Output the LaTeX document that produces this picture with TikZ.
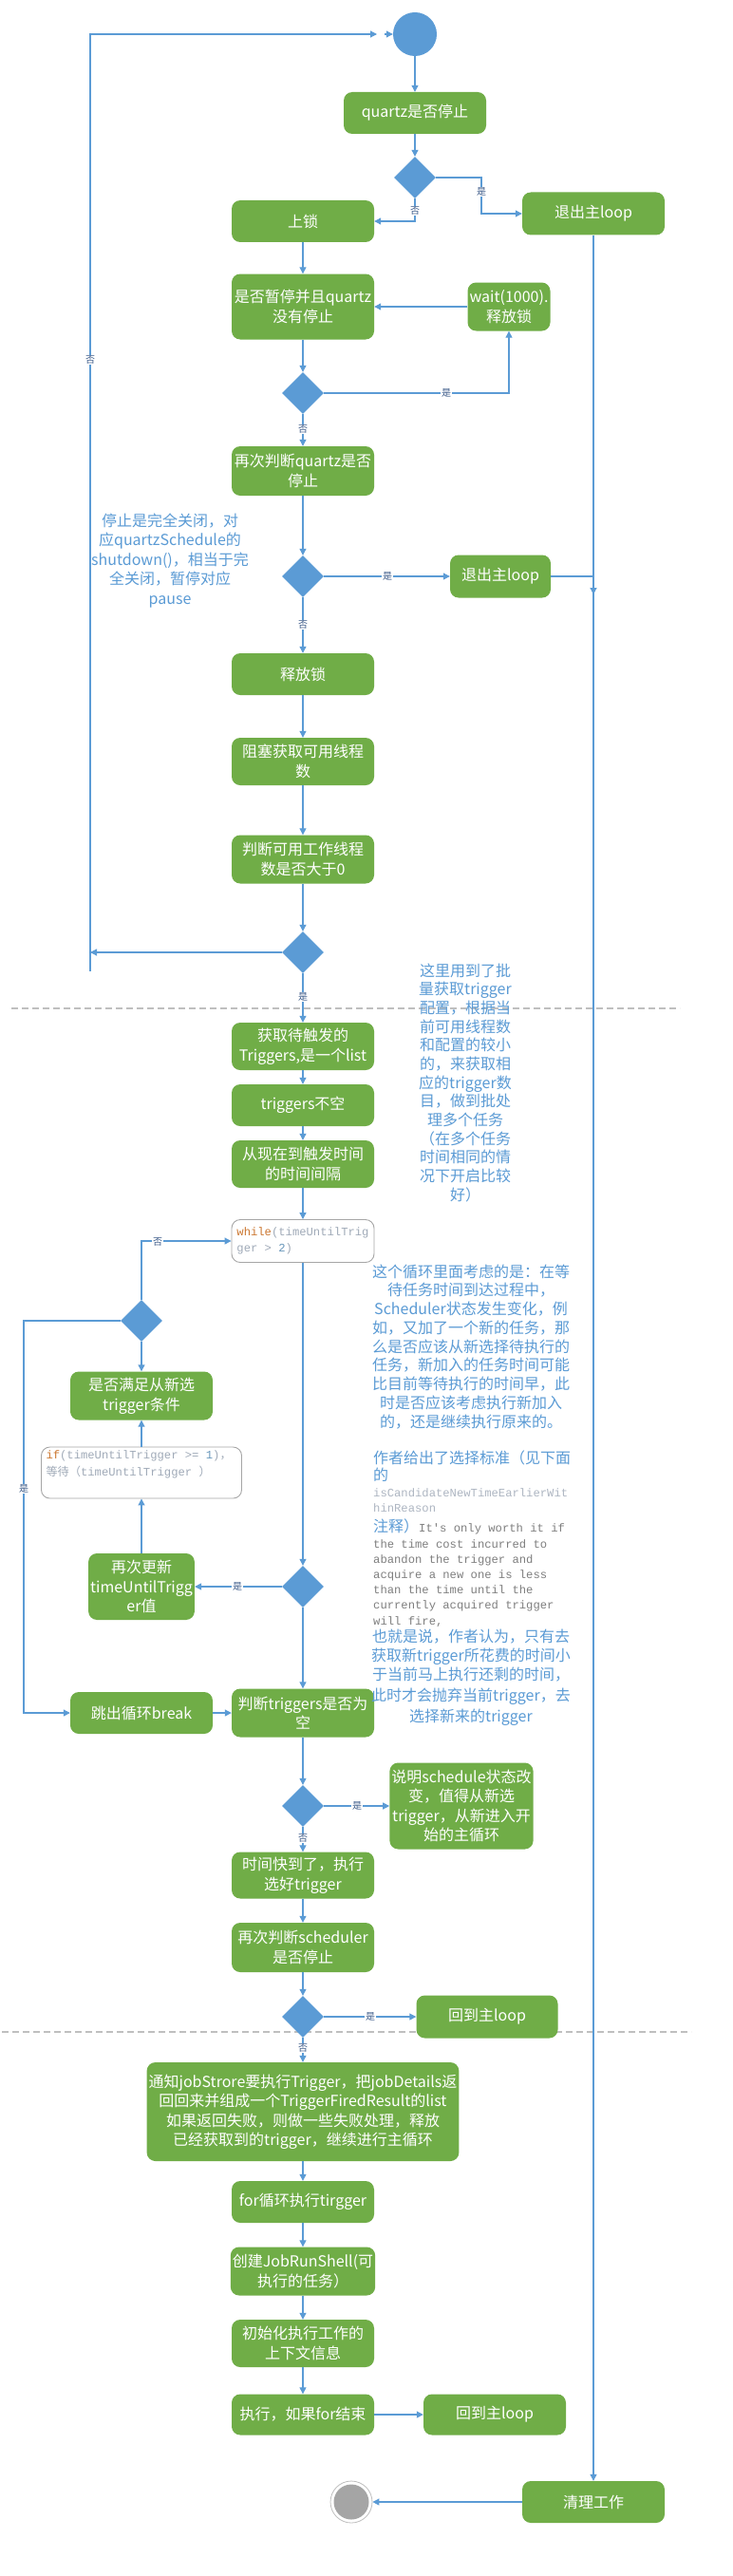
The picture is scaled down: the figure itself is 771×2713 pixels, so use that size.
\documentclass[tikz,border=0pt]{standalone}
\usepackage{fontspec}
\setmainfont{Noto Sans CJK SC}
\newfontfamily\cjk{Noto Sans CJK SC}
\newfontfamily\monof{Liberation Mono}
\usetikzlibrary{shapes.geometric,arrows.meta}
\definecolor{boxgreen}{HTML}{70AD47}
\definecolor{lineblue}{HTML}{5B9BD5}
\definecolor{noteblue}{HTML}{5B9BD5}
\definecolor{labelc}{HTML}{3E5C8A}
\definecolor{kwor}{HTML}{CC7832}
\definecolor{codegray}{HTML}{A0AAB8}
\definecolor{numblue}{HTML}{6897BB}
\definecolor{codeborder}{HTML}{A6A6A6}
\definecolor{cmtgray}{HTML}{7F7F7F}
\definecolor{lightcode}{HTML}{AEB6C2}
\definecolor{dashgray}{HTML}{BFBFBF}
\definecolor{endgray}{HTML}{A5A5A5}
\newcommand\boxfont{\fontsize{16}{20.5}\selectfont}
\newcommand\codefont{\monof\fontsize{12.2}{17.5}\selectfont}
\newcommand\notefont{\fontsize{16}{20}\selectfont}
\newcommand\lblfont{\fontsize{10}{10}\selectfont}
\begin{document}
\begin{tikzpicture}[x=1pt,y=-1pt,
  box/.style={rectangle, rounded corners=9pt, fill=boxgreen, text=white, align=center, inner sep=2pt, minimum width=150, minimum height=44, font=\boxfont},
  dia/.style={diamond, fill=lineblue, inner sep=0pt, minimum width=44, minimum height=44},
  line/.style={draw=lineblue, line width=1.1pt},
  arr/.style={line, -{Triangle[length=7pt,width=7pt]}},
  lbl/.style={font=\lblfont, text=labelc, fill=white, inner sep=0.6pt},
  notetxt/.style={font=\notefont, text=noteblue, inner sep=0pt},
  monotxt/.style={font=\codefont, text=cmtgray, inner sep=0pt},
  codebox/.style={rectangle, rounded corners=9pt, draw=codeborder, line width=0.9pt, fill=white, align=left, inner sep=4pt, font=\codefont, text=codegray},
  sepline/.style={draw=dashgray, line width=1.1pt, dash pattern=on 7pt off 4pt}
]
\useasboundingbox (0,0) rectangle (771,2713);
\fill[white] (0,0) rectangle (771,2713);

% separators
\coordinate (s1a) at (12,1062); \coordinate (s1b) at (716,1062);
\coordinate (s2a) at (2,2140); \coordinate (s2b) at (728,2140);
\draw[sepline] (s1a) -- (s1b);
\draw[sepline] (s2a) -- (s2b);

% nodes
\node[circle, fill=lineblue, minimum size=46, inner sep=0pt] (start) at (437,36) {};
\node[box] (q1) at (437,119) {quartz是否停止};
\node[dia] (d1) at (437,187) {};
\node[box, minimum height=45] (exit1) at (625,225) {退出主loop};
\node[box] (lock) at (319,233) {上锁};
\node[box, minimum height=69] (pause) at (319,323) {是否暂停并且quartz\\没有停止};
\node[box, minimum width=87, minimum height=51] (wait) at (536,323) {wait(1000).\\释放锁};
\node[dia] (d2) at (319,414) {};
\node[box, minimum height=52] (recheck) at (319,496) {再次判断quartz是否\\停止};
\node[dia] (d3) at (319,607) {};
\node[box, minimum width=106, minimum height=45] (exit2) at (527,607) {退出主loop};
\node[box] (release) at (319,710) {释放锁};
\node[box, minimum height=50] (block) at (319,802) {阻塞获取可用线程\\数};
\node[box, minimum height=51] (judge) at (319,905) {判断可用工作线程\\数是否大于0};
\node[dia] (d4) at (319,1003) {};
\node[box, minimum height=50] (fetch) at (319,1102) {获取待触发的\\Triggers,是一个list};
\node[box] (nonempty) at (319,1164) {triggers不空};
\node[box, minimum height=50] (interval) at (319,1226) {从现在到触发时间\\的时间间隔};
\node[codebox, minimum width=150, minimum height=45] (wbox) at (319,1307) {{\color{kwor}while}(timeUntilTrig\\ger > {\color{numblue}2})};
\node[dia] (d5) at (149,1391) {};
\node[box, minimum height=51] (satisfy) at (149,1470) {是否满足从新选\\trigger条件};
\node[codebox, minimum width=211, minimum height=54, inner sep=0pt] (ifbox) at (149,1551) {\parbox[c][46pt][t]{201pt}{{\color{kwor}if}(timeUntilTrigger >= {\color{numblue}1}){\cjk ，}\\{\cjk 等待（}timeUntilTrigger {\cjk ）}}};
\node[box, minimum width=106, minimum height=70] (update) at (149,1671) {再次更新\\timeUntilTrigg\\er值};
\node[dia] (d6) at (319,1671) {};
\node[box] (brk) at (149,1804) {跳出循环break};
\node[box, minimum height=51] (jempty) at (319,1804) {判断triggers是否为\\空};
\node[dia] (d7) at (319,1902) {};
\node[box, minimum width=149, minimum height=91] (explain) at (486,1902) {说明schedule状态改\\变，值得从新选\\trigger，从新进入开\\始的主循环};
\node[box, minimum height=49] (timeup) at (319,1975) {时间快到了，执行\\选好trigger};
\node[box, minimum height=52] (recheck2) at (319,2051) {再次判断scheduler\\是否停止};
\node[dia] (d8) at (319,2124) {};
\node[box, minimum width=149, minimum height=45] (back1) at (513,2124) {回到主loop};
\node[box, minimum width=312, minimum height=104] (notify) at (319,2224) {通知jobStrore要执行Trigger，把jobDetails返\\回回来并组成一个TriggerFiredResult的list\\如果返回失败，则做一些失败处理，释放\\已经获取到的trigger，继续进行主循环};
\node[box] (forb) at (319,2319) {for循环执行tirgger};
\node[box, minimum height=51] (create) at (319,2392) {创建JobRunShell(可\\执行的任务）};
\node[box, minimum height=50] (init) at (319,2468) {初始化执行工作的\\上下文信息};
\node[box, minimum height=43] (exec) at (319,2543) {执行，如果for结束};
\node[box, minimum height=43] (back2) at (521,2543) {回到主loop};
\node[box] (cleanup) at (625,2635) {清理工作};
\node[circle, draw=dashgray, line width=0.8pt, fill=white, minimum size=44, inner sep=0pt] (endo) at (370,2635) {};
\node[circle, fill=endgray, minimum size=37, inner sep=0pt] (endi) at (370,2635) {};

% notes
\foreach \t [count=\i from 0] in {停止是完全关闭，对, 应quartzSchedule的, shutdown()，相当于完, 全关闭，暂停对应, pause}
  \node[notetxt, anchor=base] (ln\i) at (179,554+20.5*\i) {\t};
\foreach \t [count=\i from 0] in {这里用到了批, 量获取trigger, 配置，根据当, 前可用线程数, 和配置的较小, 的，来获取相, 应的trigger数, 目，做到批处, 理多个任务, （在多个任务, 时间相同的情, 况下开启比较, 好）}
  \node[notetxt, anchor=base] (bn\i) at (490,1028+19.67*\i) {\t};
\foreach \t [count=\i from 0] in {这个循环里面考虑的是：在等, 待任务时间到达过程中，, Scheduler状态发生变化，例, 如，又加了一个新的任务，那, 么是否应该从新选择待执行的, 任务，新加入的任务时间可能, 比目前等待执行的时间早，此, 时是否应该考虑执行新加入, 的，还是继续执行原来的。}
  \node[notetxt, anchor=base] (pa\i) at (496,1345+19.75*\i) {\t};
\node[notetxt, anchor=base west] (pb0) at (393,1541) {作者给出了选择标准（见下面};
\node[notetxt, anchor=base west] (pb1) at (393,1559) {的};
\node[monotxt, anchor=base west, text=lightcode] (pb2) at (393,1576) {isCandidateNewTimeEarlierWit};
\node[monotxt, anchor=base west, text=lightcode] (pb3) at (393,1592) {hinReason};
\node[notetxt, anchor=base west] (pb4) at (393,1613) {注释）{\codefont\color{cmtgray}It's only worth it if}};
\foreach \t [count=\i from 5] in {the time cost incurred to, abandon the trigger and, acquire a new one is less, than the time until the, currently acquired trigger, {will fire,}}
  \node[monotxt, anchor=base west] (pb\i) at (393,1630+16.2*\i-81) {\t};
\foreach \t/\yy [count=\i from 0] in {也就是说，作者认为，只有去/1723, 获取新trigger所花费的时间小/1743, 于当前马上执行还剩的时间，/1763, 此时才会抛弃当前trigger，去/1785, 选择新来的trigger/1807}
  \node[notetxt, anchor=base] (pc\i) at (496,\yy+6) {\t};

% connectors
\coordinate (lm) at (95,1003); \coordinate (lb) at (95,1023); \coordinate (lt) at (95,36);
\coordinate (la) at (397,36); \coordinate (la2) at (405,36);
\draw[arr] (d4.west) -- (lm);
\draw[arr] (lb) -- (lt) -- (la);
\draw[arr] (la2) -- (start.west);
\draw[arr] (start) -- (q1);
\draw[arr] (q1) -- (d1);
\coordinate (c1) at (507,206);
\draw[arr] (d1.east) -| (c1) |- (exit1.west);
\draw[arr] (d1.south) |- (lock.east);
\draw[arr] (lock) -- (pause);
\draw[arr] (wait.west) -- (pause.east);
\draw[arr] (pause) -- (d2);
\draw[arr] (d2.east) -| (wait.south);
\draw[arr] (d2) -- (recheck);
\draw[arr] (recheck) -- (d3);
\draw[arr] (d3.east) -- (exit2.west);
\coordinate (j1) at (625,607); \coordinate (j1b) at (625,626);
\draw[line] (exit2.east) -- (j1);
\draw[arr] (j1) -- (j1b);
\draw[arr] (exit1.south) -- (cleanup.north);
\draw[arr] (d3) -- (release);
\draw[arr] (release) -- (block);
\draw[arr] (block) -- (judge);
\draw[arr] (judge) -- (d4);
\draw[arr] (d4) -- (fetch);
\draw[arr] (fetch) -- (nonempty);
\draw[arr] (nonempty) -- (interval);
\draw[arr] (interval) -- (wbox);
\draw[arr] (wbox) -- (d6);
\draw[arr] (d5.north) |- (wbox.west);
\draw[arr] (d5) -- (satisfy);
\draw[arr] (ifbox) -- (satisfy);
\draw[arr] (update) -- (ifbox);
\draw[arr] (d6.west) -- (update.east);
\coordinate (c5) at (25,1600);
\draw[arr] (d5.west) -| (c5) |- (brk.west);
\draw[arr] (brk.east) -- (jempty.west);
\draw[arr] (d6) -- (jempty);
\draw[arr] (jempty) -- (d7);
\draw[arr] (d7.east) -- (explain.west);
\draw[arr] (d7) -- (timeup);
\draw[arr] (timeup) -- (recheck2);
\draw[arr] (recheck2) -- (d8);
\draw[arr] (d8.east) -- (back1.west);
\draw[arr] (d8) -- (notify);
\draw[arr] (notify) -- (forb);
\draw[arr] (forb) -- (create);
\draw[arr] (create) -- (init);
\draw[arr] (init) -- (exec);
\draw[arr] (exec.east) -- (back2.west);
\draw[arr] (cleanup.west) -- (endo.east);

% connector labels
\node[lbl] (l1) at (507,202) {是};
\node[lbl] (l2) at (437,222) {否};
\node[lbl] (l3) at (470,414) {是};
\node[lbl] (l4) at (319,452) {否};
\node[lbl] (l5) at (95,379) {否};
\node[lbl] (l6) at (408,607) {是};
\node[lbl] (l7) at (319,658) {否};
\node[lbl] (l8) at (319,1050) {是};
\node[lbl] (l9) at (166,1308) {否};
\node[lbl] (l10) at (250,1671) {是};
\node[lbl] (l11) at (25,1568) {是};
\node[lbl] (l12) at (376,1902) {是};
\node[lbl] (l13) at (319,1936) {否};
\node[lbl] (l14) at (390,2124) {是};
\node[lbl] (l15) at (319,2157) {否};
\end{tikzpicture}
\end{document}
